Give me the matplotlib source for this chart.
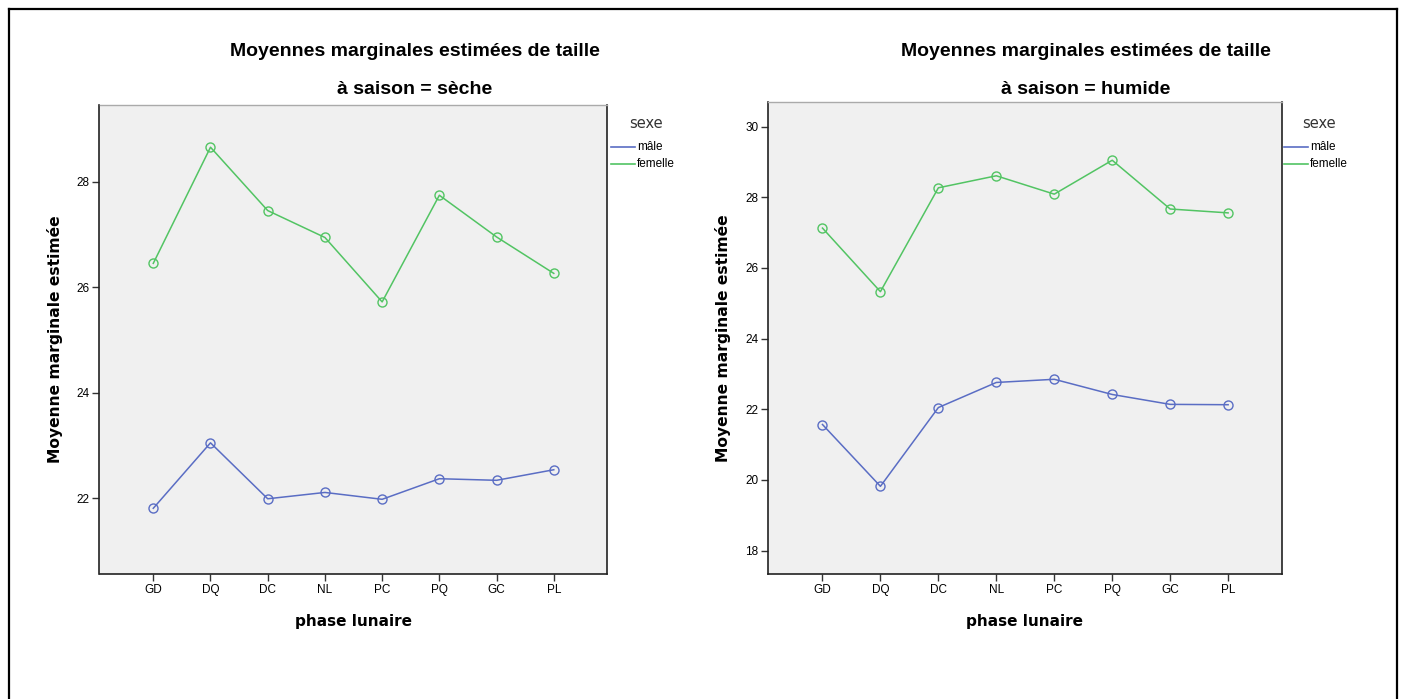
import matplotlib
matplotlib.use("Agg")
import matplotlib.pyplot as plt
from matplotlib.lines import Line2D

phases = ["GD", "DQ", "DC", "NL", "PC", "PQ", "GC", "PL"]

# estimated marginal means of taille, saison = sèche
seche_male = [21.81, 23.05, 21.99, 22.11, 21.98, 22.37, 22.34, 22.54]
seche_femelle = [26.45, 28.65, 27.45, 26.94, 25.72, 27.74, 26.95, 26.26]

# estimated marginal means of taille, saison = humide
humide_male = [21.57, 19.82, 22.05, 22.76, 22.85, 22.42, 22.14, 22.13]
humide_femelle = [27.13, 25.33, 28.27, 28.61, 28.09, 29.05, 27.67, 27.56]

seche_ticks = [22, 24, 26, 28]
humide_ticks = [18, 20, 22, 24, 26, 28, 30]

BLUE = "#5a6dc4"
GREEN = "#52c463"
BG = "#f0f0f0"

fig = plt.figure(figsize=(14.04, 6.99), dpi=100)

# frame round the whole output (bottom edge falls off the page)
for xs, ys in [((8.5, 8.5), (-5, 690.5)), ((8.5, 1396.5), (690.5, 690.5)),
               ((1396.5, 1396.5), (-5, 690.5))]:
    fig.add_artist(Line2D([x / 1404 for x in xs], [y / 699 for y in ys],
                          color="black", lw=1.6, transform=fig.transFigure))


def panel(rect, male, femelle, ticks, ylim, subtitle, title_x, leg_x):
    ax = fig.add_axes(rect)
    ax.set_facecolor(BG)
    x = list(range(len(phases)))
    ax.plot(x, male, color=BLUE, lw=1.1, marker="o", ms=6.5, mfc="none",
            mec=BLUE, mew=1.0)
    ax.plot(x, femelle, color=GREEN, lw=1.1, marker="o", ms=6.5, mfc="none",
            mec=GREEN, mew=1.0)
    ax.set_xlim(-0.94, 7.93)
    ax.set_ylim(*ylim)
    ax.set_xticks(x)
    ax.set_xticklabels(phases, family="Liberation Sans", fontsize=8.5)
    ax.set_yticks(ticks)
    ax.set_yticklabels([str(t) for t in ticks], family="Liberation Sans",
                       fontsize=8.5)
    ax.tick_params(direction="out", length=5, width=1, color="#333333",
                   pad=2)
    for side in ["left", "bottom", "right"]:
        ax.spines[side].set_color("#222222")
        ax.spines[side].set_linewidth(1.2)
    ax.spines["top"].set_color("#aaaaaa")
    ax.spines["top"].set_linewidth(1.0)
    ax.set_xlabel("phase lunaire", fontsize=11, fontweight="bold",
                  family="DejaVu Sans", labelpad=13)
    ax.set_ylabel("Moyenne marginale estimée", fontsize=11.2,
                  fontweight="bold", family="DejaVu Sans", labelpad=10)

    fig.text(title_x / 1404, 1 - 52 / 699,
             "Moyennes marginales estimées de taille", ha="center",
             va="center", fontsize=14, fontweight="bold",
             family="Liberation Sans")
    fig.text(title_x / 1404, 1 - 90 / 699, subtitle, ha="center",
             va="center", fontsize=14, fontweight="bold",
             family="Liberation Sans")

    # legend drawn by hand at the right of the plot box
    fig.text((leg_x + 18) / 1404, 1 - 123 / 699, "sexe", ha="left",
             va="center", fontsize=10.5, family="DejaVu Sans",
             color="#333333")
    for i, (lab, col) in enumerate([("mâle", BLUE), ("femelle", GREEN)]):
        yy = 1 - (147 + 17 * i) / 699
        fig.add_artist(Line2D([leg_x / 1404, (leg_x + 24) / 1404], [yy, yy],
                              color=col, lw=1.2, transform=fig.transFigure))
        fig.text((leg_x + 26) / 1404, yy, lab, ha="left", va="center",
                 fontsize=8.5, family="Liberation Sans")
    return ax


panel([99.5 / 1404, 125 / 699, 507.5 / 1404, 469 / 699],
      seche_male, seche_femelle, seche_ticks, (20.565, 29.45),
      "à saison = sèche", 415, 611)
panel([768 / 1404, 124.7 / 699, 514 / 1404, 472 / 699],
      humide_male, humide_femelle, humide_ticks, (17.33, 30.69),
      "à saison = humide", 1086, 1284)

fig.savefig("out.png", dpi=100, facecolor="white")
